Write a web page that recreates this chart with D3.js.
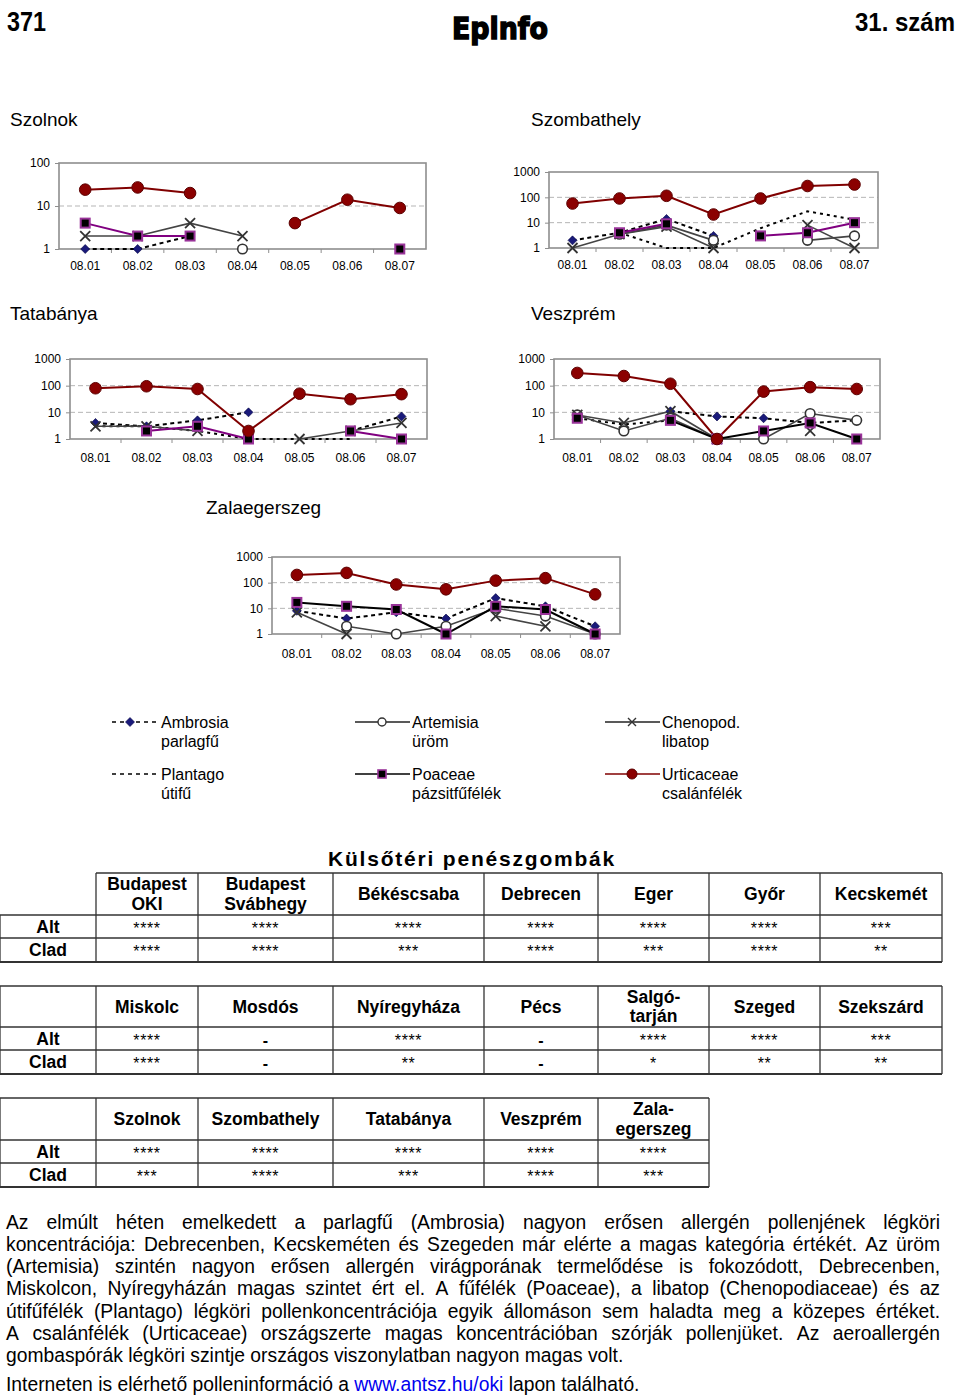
<!DOCTYPE html>
<html><head><meta charset="utf-8">
<script src="https://cdn.jsdelivr.net/npm/d3@7"></script>
<style>body{margin:0;background:#fff} svg{display:block}</style>
</head><body><svg id="c" width="960" height="1396"></svg>
<script>
// ---------- DATA ----------
const dates = ["08.01","08.02","08.03","08.04","08.05","08.06","08.07"];
const seriesNames = ["Ambrosia","Plantago","Artemisia","Chenopod.","Poaceae","Urticaceae"];
const seriesHu = ["parlagfű","útifű","üröm","libatop","pázsitfűfélék","csalánfélék"];
const N = null;
// rows in seriesNames order: Ambrosia, Plantago, Artemisia, Chenopod., Poaceae, Urticaceae
const szolnokValues = [
  [1,1,2,N,N,N,N],
  [N,N,N,N,N,N,N],
  [N,N,N,1,N,N,N],
  [2,2,4,2,N,N,N],
  [4,2,2,N,N,N,1],
  [24,27,20,N,4,14,9]
];
const szombathelyValues = [
  [2,4,14,3,N,N,N],
  [N,4,1,1,6,28,13],
  [N,3.5,8,2,N,2,3],
  [1,3.5,7,1,N,8,1],
  [N,4,9,N,3,4,10],
  [57,90,115,21,90,280,320]
];
const tatabanyaValues = [
  [4,3,5,10,N,2,7],
  [3,3,2,1,1,1,N],
  [N,N,N,N,N,N,N],
  [3,3,2,N,1,2,4],
  [N,2,3,1,N,2,1],
  [80,95,75,2,50,31,48]
];
const veszpremValues = [
  [N,N,11,7,6,4,5],
  [6,3.5,5,N,N,N,N],
  [8,2,6,1,1,9,5],
  [8,4,11,1,N,2,N],
  [6,N,5,1,2,4,1],
  [300,230,118,1,60,88,75]
];
const zalaValues = [
  [8,4,7,4,25,12,2],
  [N,N,N,N,N,N,N],
  [N,2,1,2,10,5,1],
  [7,1,N,N,5,2,N],
  [17,12,9,1,12,9,1],
  [200,240,85,55,120,150,35]
];
const yTicks3 = [1,10,100];
const yTicks4 = [1,10,100,1000];

const tableTitle = "Külsőtéri penészgombák";
const rowLabels = ["Alt","Clad"];
const t1Stations = [["Budapest","OKI"],["Budapest","Svábhegy"],["Békéscsaba"],["Debrecen"],["Eger"],["Győr"],["Kecskemét"]];
const t1Alt  = ["****","****","****","****","****","****","***"];
const t1Clad = ["****","****","***","****","***","****","**"];
const t2Stations = [["Miskolc"],["Mosdós"],["Nyíregyháza"],["Pécs"],["Salgó-","tarján"],["Szeged"],["Szekszárd"]];
const t2Alt  = ["****","-","****","-","****","****","***"];
const t2Clad = ["****","-","**","-","*","**","**"];
const t3Stations = [["Szolnok"],["Szombathely"],["Tatabánya"],["Veszprém"],["Zala-","egerszeg"]];
const t3Alt  = ["****","****","****","****","****"];
const t3Clad = ["***","****","***","****","***"];

const paraLines = [
  "Az elmúlt héten emelkedett a parlagfű (Ambrosia) nagyon erősen allergén pollenjének légköri",
  "koncentrációja: Debrecenben, Kecskeméten és Szegeden már elérte a magas kategória értékét. Az üröm",
  "(Artemisia) szintén nagyon erősen allergén virágporának termelődése is fokozódott, Debrecenben,",
  "Miskolcon, Nyíregyházán magas szintet ért el. A fűfélék (Poaceae), a libatop (Chenopodiaceae) és az",
  "útifűfélék (Plantago) légköri pollenkoncentrációja egyik állomáson sem haladta meg a közepes értéket.",
  "A csalánfélék (Urticaceae) országszerte magas koncentrációban szórják pollenjüket. Az aeroallergén",
  "gombaspórák légköri szintje országos viszonylatban nagyon magas volt."
];
const lastLine = ["Interneten is elérhető polleninformáció a ", "www.antsz.hu/oki", " lapon található."];

// ---------- STYLE / LAYOUT ----------
const FONT = "'Liberation Sans', Arial, Helvetica, sans-serif";
const NARROW = "'Liberation Sans Narrow', 'Arial Narrow', 'Liberation Sans', sans-serif";
const svg = d3.select("#c");

const styles = [
  {line:"#000", w:2, dash:"4,3.5", marker:"diamond"},
  {line:"#000", w:2, dash:"3,4", marker:null},
  {line:"#444", w:1.6, dash:null, marker:"circle"},
  {line:"#444", w:1.6, dash:null, marker:"x"},
  {line:"#800080", w:2, dash:null, marker:"square"},
  {line:"#800000", w:2, dash:null, marker:"dot"}
];

function drawMarker(sel, type){
  if(type==="diamond"){
    sel.append("path").attr("d","M0,-4.5L4.5,0L0,4.5L-4.5,0Z").attr("fill","#1a1a7a").attr("stroke","#000040").attr("stroke-width",0.6);
  } else if(type==="circle"){
    sel.append("circle").attr("r",4.8).attr("fill","#fff").attr("stroke","#333").attr("stroke-width",1.6);
  } else if(type==="x"){
    sel.append("path").attr("d","M-5,-5L5,5M-5,5L5,-5").attr("stroke","#333").attr("stroke-width",1.8).attr("fill","none");
  } else if(type==="square"){
    sel.append("rect").attr("x",-4.5).attr("y",-4.5).attr("width",9).attr("height",9).attr("fill","#000").attr("stroke","#993399").attr("stroke-width",2);
  } else if(type==="dot"){
    sel.append("circle").attr("r",5.8).attr("fill","#8b0000").attr("stroke","#5c0000").attr("stroke-width",1);
  }
}

const charts = [
  {name:"Szolnok", values:szolnokValues, ticks:yTicks3, tx:10, ty:126, x0:59, x1:426, yTop:163, yBot:249, pad:13, poa:"#800080"},
  {name:"Szombathely", values:szombathelyValues, ticks:yTicks4, tx:531, ty:126, x0:549, x1:878, yTop:172, yBot:248, pad:13, poa:"#800080"},
  {name:"Tatabánya", values:tatabanyaValues, ticks:yTicks4, tx:10, ty:320, x0:70, x1:427, yTop:359, yBot:439, pad:15, poa:"#800080"},
  {name:"Veszprém", values:veszpremValues, ticks:yTicks4, tx:531, ty:320, x0:554, x1:880, yTop:359, yBot:439, pad:15, poa:"#000"},
  {name:"Zalaegerszeg", values:zalaValues, ticks:yTicks4, tx:206, ty:514, x0:272, x1:620, yTop:557, yBot:634, pad:16, poa:"#000"}
];

// ---------- HEADER ----------
function fitText(str, x, yb, anchor, size, width, family, weight, extra){
  const g = svg.append("g");
  const t = g.append("text").attr("font-family",family).attr("font-weight",weight)
    .attr("font-size",size).attr("text-anchor",anchor).text(str);
  if(extra) extra(t);
  const w = t.node().getComputedTextLength();
  g.attr("transform",`translate(${x},${yb}) scale(${width/w},1)`);
  return t;
}
fitText("371", 7, 31, "start", 27, 39, NARROW, "bold");
fitText("31. szám", 955, 31, "end", 26, 100, NARROW, "bold");
fitText("Epinfo", 452, 39, "start", 31, 96, "'DejaVu Sans', sans-serif", "900",
  t => t.attr("stroke","#000").attr("stroke-width",1.6));

// ---------- CHARTS ----------
charts.forEach(C => {
  const g = svg.append("g");
  g.append("text").attr("x",C.tx).attr("y",C.ty).attr("font-family",FONT).attr("font-size",19).text(C.name);
  const xb = d3.scaleBand().domain(dates).range([C.x0, C.x1]);
  const x = d => xb(d) + xb.bandwidth()/2;
  const maxV = C.ticks[C.ticks.length-1];
  const y = d3.scaleLog().domain([1, maxV]).range([C.yBot, C.yTop]);
  g.selectAll("line.grid").data(C.ticks.filter(t => t>1 && t<maxV)).join("line")
    .attr("x1",C.x0).attr("x2",C.x1).attr("y1",d=>y(d)).attr("y2",d=>y(d))
    .attr("stroke","#b5b5b5").attr("stroke-width",1).attr("stroke-dasharray","5,3");
  g.append("rect").attr("x",C.x0).attr("y",C.yTop).attr("width",C.x1-C.x0).attr("height",C.yBot-C.yTop)
    .attr("fill","none").attr("stroke","#8e8e8e").attr("stroke-width",1.6);
  const ya = g.append("g").attr("transform",`translate(${C.x0},0)`)
    .call(d3.axisLeft(y).tickValues(C.ticks).tickFormat(d3.format("d")).tickSize(4).tickPadding(5));
  ya.select(".domain").remove();
  ya.selectAll(".tick line").attr("stroke","#8e8e8e");
  ya.selectAll("text").attr("font-family",FONT).attr("font-size",12).attr("fill","#000");
  const xa = g.append("g").attr("transform",`translate(0,${C.yBot})`)
    .call(d3.axisBottom(xb).tickSize(0).tickPadding(C.pad-1));
  xa.select(".domain").remove();
  xa.selectAll("text").attr("font-family",FONT).attr("font-size",12).attr("fill","#000");
  g.selectAll("line.xt").data(dates.slice(1)).join("line")
    .attr("x1",d=>xb(d)).attr("x2",d=>xb(d)).attr("y1",C.yBot).attr("y2",C.yBot+4)
    .attr("stroke","#8e8e8e").attr("stroke-width",1);
  const line = d3.line().defined(p => p.v != null).x(p => x(p.d)).y(p => y(p.v));
  C.values.forEach((vals, si) => {
    const st = styles[si];
    const pts = vals.map((v,i) => ({v, d:dates[i]}));
    const col = si===4 ? C.poa : st.line;
    g.append("path").datum(pts).attr("d",line).attr("fill","none").attr("stroke",col)
      .attr("stroke-width",st.w).attr("stroke-dasharray",st.dash);
  });
  C.values.forEach((vals, si) => {
    const st = styles[si];
    if(!st.marker) return;
    const pts = vals.map((v,i) => ({v, d:dates[i]})).filter(p => p.v != null);
    g.selectAll(null).data(pts).join("g")
      .attr("transform", p => `translate(${x(p.d)},${y(p.v)})`)
      .each(function(){ drawMarker(d3.select(this), st.marker); });
  });
});

// ---------- LEGEND ----------
const legendCols = [112, 355, 605];
const legendRows = [722, 774];
const legendOrder = [0,2,3,1,4,5];
legendOrder.forEach((si, k) => {
  const col = k % 3, row = Math.floor(k/3);
  const lx = legendCols[col], ly = legendRows[row];
  const st = styles[si];
  const g = svg.append("g");
  const len = col===0 ? 47 : 55;
  g.append("line").attr("x1",lx).attr("x2",lx+len).attr("y1",ly).attr("y2",ly)
    .attr("stroke", si===5 ? "#800000" : (si<2 || si===4 ? "#000" : "#222"))
    .attr("stroke-width", si<2 ? 1.5 : 1.6).attr("stroke-dasharray", si<2 ? "4,4" : null);
  if(st.marker){
    const mx = col===0 ? lx+18 : lx+27;
    const m = g.append("g").attr("transform",`translate(${mx},${ly})`);
    if(st.marker==="x"){
      m.append("path").attr("d","M-4,-4L4,4M-4,4L4,-4").attr("stroke","#333").attr("stroke-width",1.4);
    } else if(st.marker==="circle"){
      m.append("circle").attr("r",4).attr("fill","#fff").attr("stroke","#333").attr("stroke-width",1.4);
    } else if(st.marker==="square"){
      m.append("rect").attr("x",-4).attr("y",-4).attr("width",8).attr("height",8).attr("fill","#000").attr("stroke","#993399").attr("stroke-width",1.6);
    } else if(st.marker==="dot"){
      m.append("circle").attr("r",5).attr("fill","#8b0000").attr("stroke","#5c0000");
    } else drawMarker(m, st.marker);
  }
  const tx = lx + len + 2;
  g.append("text").attr("x",tx).attr("y",ly+6).attr("font-family",FONT).attr("font-size",16).text(seriesNames[si]);
  g.append("text").attr("x",tx).attr("y",ly+25).attr("font-family",FONT).attr("font-size",16).text(seriesHu[si]);
});

// ---------- TABLES ----------
svg.append("text").attr("x",472).attr("y",866).attr("text-anchor","middle").attr("font-family",FONT)
  .attr("font-weight","bold").attr("font-size",21).attr("letter-spacing",1.8).text(tableTitle);

function drawTable(cols, rows, headers, alt, clad, fullTop){
  const g = svg.append("g");
  const last = cols[cols.length-1];
  rows.forEach((ry,i) => {
    const xs = (i===0 && !fullTop) ? cols[1] : cols[0];
    g.append("line").attr("x1",xs).attr("x2",last).attr("y1",ry).attr("y2",ry)
      .attr("stroke","#333").attr("stroke-width", i===rows.length-1 ? 2 : 1.3);
  });
  cols.forEach((cx,j) => {
    const ys = (j===0 && !fullTop) ? rows[1] : rows[0];
    g.append("line").attr("x1",cx).attr("x2",cx).attr("y1",ys).attr("y2",rows[rows.length-1])
      .attr("stroke","#333").attr("stroke-width",1.3);
  });
  const hc = (rows[0]+rows[1])/2;
  headers.forEach((h,j) => {
    const cx = (cols[j+1]+cols[j+2])/2;
    h.forEach((t,k) => {
      const by = h.length===1 ? hc+6 : hc - 10 + 6 + k*19.5;
      g.append("text").attr("x",cx).attr("y",by).attr("text-anchor","middle").attr("font-family",FONT)
        .attr("font-weight","bold").attr("font-size",17.5).text(t);
    });
  });
  [alt, clad].forEach((vals, r) => {
    const base = rows[r+1] + 18;
    g.append("text").attr("x",(cols[0]+cols[1])/2).attr("y",base).attr("text-anchor","middle")
      .attr("font-family",FONT).attr("font-weight","bold").attr("font-size",17.5).text(rowLabels[r]);
    vals.forEach((v,j) => {
      const cx = (cols[j+1]+cols[j+2])/2;
      const dash = v === "-";
      g.append("text").attr("x",cx).attr("y", base+1).attr("text-anchor","middle")
        .attr("font-family",FONT).attr("font-weight", dash ? "bold" : "normal").attr("font-size",16)
        .attr("letter-spacing", dash ? 0 : 0.6).text(v);
    });
  });
}
const colsA = [0,96,198,333,484,598,709,820,942];
const colsB = [0,96,198,333,484,598,709];
drawTable(colsA, [873,915,938,962], t1Stations, t1Alt, t1Clad, false);
drawTable(colsA, [986,1027,1050,1074], t2Stations, t2Alt, t2Clad, true);
drawTable(colsB, [1098,1140,1163,1187], t3Stations, t3Alt, t3Clad, true);

// ---------- PARAGRAPH ----------
const pX0 = 6, pX1 = 940, pFS = 19.3;
paraLines.forEach((str, i) => {
  const yb = 1228.5 + i*22.3;
  const justify = i < paraLines.length - 1;
  if(!justify){
    svg.append("text").attr("x",pX0).attr("y",yb).attr("font-family",FONT).attr("font-size",pFS).text(str);
    return;
  }
  const words = str.split(" ");
  const ts = words.map(w => svg.append("text").attr("y",yb).attr("font-family",FONT).attr("font-size",pFS).text(w));
  const widths = ts.map(t => t.node().getComputedTextLength());
  const gap = (pX1 - pX0 - d3.sum(widths)) / (words.length - 1);
  let cx = pX0;
  ts.forEach((t,k) => { t.attr("x",cx); cx += widths[k] + gap; });
});
const ll = svg.append("text").attr("x",pX0).attr("y",1391).attr("font-family",FONT).attr("font-size",pFS);
ll.append("tspan").text(lastLine[0]);
ll.append("tspan").attr("fill","#0000ee").text(lastLine[1]);
ll.append("tspan").text(lastLine[2]);
</script>
</body></html>
